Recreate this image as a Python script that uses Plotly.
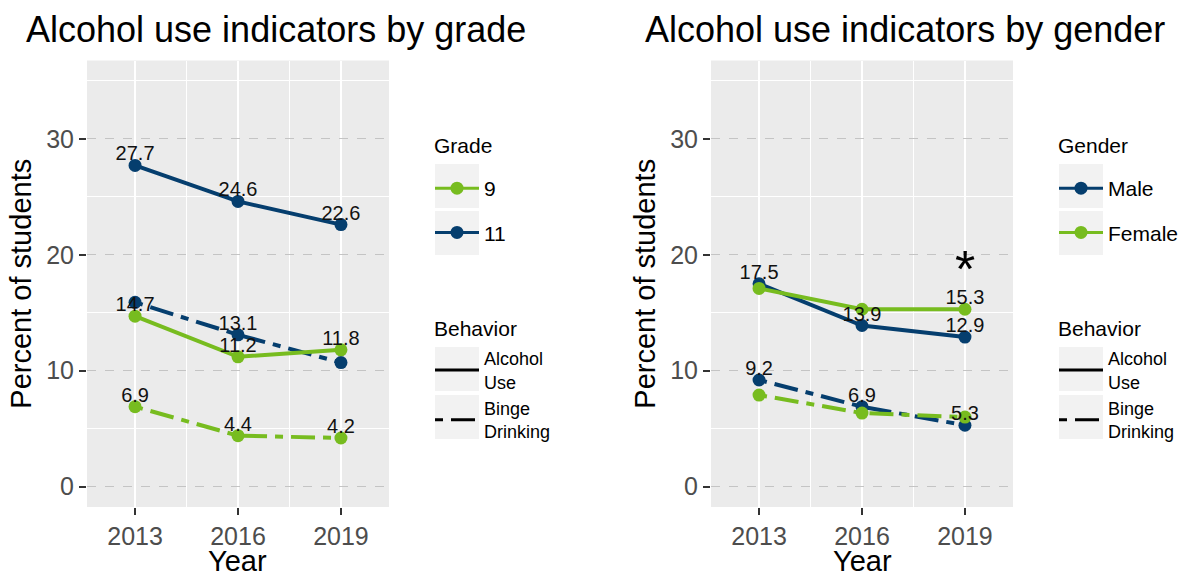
import plotly.graph_objects as go

# ---------------- data ----------------
years = [2013, 2016, 2019]

# by grade
grade9_alcohol = [14.7, 11.2, 11.8]
grade9_binge = [6.9, 4.4, 4.2]
grade11_alcohol = [27.7, 24.6, 22.6]
grade11_binge = [15.9, 13.1, 10.7]
# which value labels survive overlap checking (ggplot check_overlap)
grade9_alcohol_shown = [True, True, True]
grade9_binge_shown = [True, True, True]
grade11_alcohol_shown = [True, True, True]
grade11_binge_shown = [False, True, False]

# by gender
male_alcohol = [17.5, 13.9, 12.9]
male_binge = [9.2, 6.9, 5.3]
female_alcohol = [17.1, 15.3, 15.3]
female_binge = [7.9, 6.35, 6.0]
male_alcohol_shown = [True, True, True]
male_binge_shown = [True, True, True]
female_alcohol_shown = [False, False, True]
female_binge_shown = [False, False, False]

sig_year = 2019
sig_value = 19.4

titles = ["Alcohol use indicators by grade", "Alcohol use indicators by gender"]
x_title = "Year"
y_title = "Percent of students"
x_ticks = [2013, 2016, 2019]
y_ticks = [0, 10, 20, 30]

# ---------------- style ----------------
GREEN = "#77BC1F"
NAVY = "#053E6E"
FONT = "Liberation Sans, Arial, sans-serif"
W, H = 1191, 577
LW = 4
MS = 13
BINGE_DASH = "8px,8px,24px,8px"

fig = go.Figure()


def series(x, y, color, dash, xa, ya):
    fig.add_trace(go.Scatter(
        x=x, y=y, mode="lines+markers", xaxis=xa, yaxis=ya,
        line=dict(color=color, width=LW, dash=dash),
        marker=dict(color=color, size=MS), showlegend=False, hoverinfo="skip"))


def labels(x, y, shown, xa, ya):
    fig.add_trace(go.Scatter(
        x=x, y=y, mode="text", xaxis=xa, yaxis=ya,
        text=[f"{v:.1f}" if s else "" for v, s in zip(y, shown)],
        textposition="top center",
        textfont=dict(family=FONT, size=20, color="#111111"),
        showlegend=False, hoverinfo="skip"))


# left panel
series(years, grade11_alcohol, NAVY, "solid", "x", "y")
series(years, grade11_binge, NAVY, BINGE_DASH, "x", "y")
series(years, grade9_alcohol, GREEN, "solid", "x", "y")
series(years, grade9_binge, GREEN, BINGE_DASH, "x", "y")
labels(years, grade11_alcohol, grade11_alcohol_shown, "x", "y")
labels(years, grade11_binge, grade11_binge_shown, "x", "y")
labels(years, grade9_alcohol, grade9_alcohol_shown, "x", "y")
labels(years, grade9_binge, grade9_binge_shown, "x", "y")

# right panel
series(years, male_alcohol, NAVY, "solid", "x2", "y2")
series(years, male_binge, NAVY, BINGE_DASH, "x2", "y2")
series(years, female_alcohol, GREEN, "solid", "x2", "y2")
series(years, female_binge, GREEN, BINGE_DASH, "x2", "y2")
labels(years, male_alcohol, male_alcohol_shown, "x2", "y2")
labels(years, male_binge, male_binge_shown, "x2", "y2")
labels(years, female_alcohol, female_alcohol_shown, "x2", "y2")
labels(years, female_binge, female_binge_shown, "x2", "y2")


# legend entries
def legend_entry(name, color, dash, with_marker, legend, group):
    fig.add_trace(go.Scatter(
        x=[None], y=[None], mode="lines+markers" if with_marker else "lines",
        name=name, legend=legend, legendgroup=group,
        line=dict(color=color, width=3, dash=dash),
        marker=dict(color=color, size=MS), hoverinfo="skip"))


legend_entry("9", GREEN, "solid", True, "legend", "g9")
legend_entry("11", NAVY, "solid", True, "legend", "g11")
legend_entry("Alcohol<br>Use", "black", "solid", False, "legend2", "b1")
legend_entry("Binge<br>Drinking", "black", BINGE_DASH, False, "legend2", "b2")
legend_entry("Male", NAVY, "solid", True, "legend3", "m")
legend_entry("Female", GREEN, "solid", True, "legend3", "f")
legend_entry("Alcohol<br>Use", "black", "solid", False, "legend4", "b3")
legend_entry("Binge<br>Drinking", "black", BINGE_DASH, False, "legend4", "b4")

# geometry (pixels)
left_px = [87, 389]
right_px = [711, 1013]
top_px, bottom_px = 60.5, 507


def px_x(v):
    return v / W


def px_y(v):
    return 1 - v / H


xaxis_common = dict(
    range=[2011.6, 2020.4], tickvals=x_ticks, ticks="outside", ticklen=7, tickwidth=1.5,
    tickcolor="#333333", showgrid=True, gridcolor="white", gridwidth=2.2,
    minor=dict(tick0=2011.5, dtick=3, showgrid=True, gridcolor="white", gridwidth=1.1,
               griddash="solid", ticks=""),
    zeroline=False, showline=False, automargin=False,
    tickfont=dict(family=FONT, size=25, color="#4D4D4D"),
)
yaxis_common = dict(
    range=[-1.75, 36.75], tickvals=y_ticks, ticks="outside", ticklen=7, tickwidth=1.5,
    tickcolor="#333333", showgrid=True, gridcolor="#C4C4C4", gridwidth=1.2, griddash="dash",
    minor=dict(tick0=5, dtick=10, showgrid=True, gridcolor="white", gridwidth=1.1,
               griddash="solid", ticks=""),
    zeroline=False, showline=False, automargin=False,
    tickfont=dict(family=FONT, size=25, color="#4D4D4D"),
    title=dict(text=y_title, font=dict(family=FONT, size=29, color="black"), standoff=6),
)


def legend_at(x, y, size, gap):
    return dict(
        bgcolor="rgba(0,0,0,0)", font=dict(family=FONT, size=size, color="black"),
        xanchor="left", yanchor="top", traceorder="grouped", tracegroupgap=gap,
        itemwidth=44, itemclick=False, itemdoubleclick=False,
        x=px_x(x), y=px_y(y))


# key backgrounds
shapes = []
for kx in (435, 1059):
    for ky in (164, 211, 347, 395):
        shapes.append(dict(type="rect", xref="paper", yref="paper",
                           x0=px_x(kx), x1=px_x(kx + 44), y0=px_y(ky + 44), y1=px_y(ky),
                           fillcolor="#F2F2F2", line=dict(width=0), layer="below"))


def text_note(text, x, y, size):
    return dict(text=text, xref="paper", yref="paper", x=px_x(x), y=px_y(y),
                xanchor="left", yanchor="middle", showarrow=False,
                font=dict(family=FONT, size=size, color="black"))


def x_title_note(xref):
    return dict(text=x_title, xref=xref + " domain", yref="paper", x=0.5, y=0,
                xanchor="center", yanchor="bottom", showarrow=False, yshift=-2,
                font=dict(family=FONT, size=29, color="black"))


annotations = [
    text_note(titles[0], 24, 29, 36),
    text_note(titles[1], 643, 29, 36),
    text_note("Grade", 432, 145, 21),
    text_note("Behavior", 432, 328, 21),
    text_note("Gender", 1056, 145, 21),
    text_note("Behavior", 1056, 328, 21),
    x_title_note("x"),
    x_title_note("x2"),
    dict(text="*", xref="x2", yref="y2", x=sig_year, y=sig_value,
         xanchor="center", yanchor="middle", showarrow=False, yshift=-7,
         font=dict(family=FONT, size=52, color="black")),
]

fig.update_layout(
    width=W, height=H, margin=dict(l=0, r=0, t=0, b=0, autoexpand=False),
    paper_bgcolor="white", plot_bgcolor="#EBEBEB",
    xaxis=dict(domain=[px_x(left_px[0]), px_x(left_px[1])], anchor="y", **xaxis_common),
    yaxis=dict(domain=[px_y(bottom_px), px_y(top_px)], anchor="x", **yaxis_common),
    xaxis2=dict(domain=[px_x(right_px[0]), px_x(right_px[1])], anchor="y2", **xaxis_common),
    yaxis2=dict(domain=[px_y(bottom_px), px_y(top_px)], anchor="x2", **yaxis_common),
    legend=legend_at(430, 168, 21, 14),
    legend2=legend_at(430, 340, 18, 0),
    legend3=legend_at(1054, 168, 21, 14),
    legend4=legend_at(1054, 340, 18, 0),
    shapes=shapes, annotations=annotations,
    showlegend=True,
)

fig.write_html("out.html", config={"displayModeBar": False},
               post_script="document.body.style.margin='0';document.body.style.overflow='hidden';")
